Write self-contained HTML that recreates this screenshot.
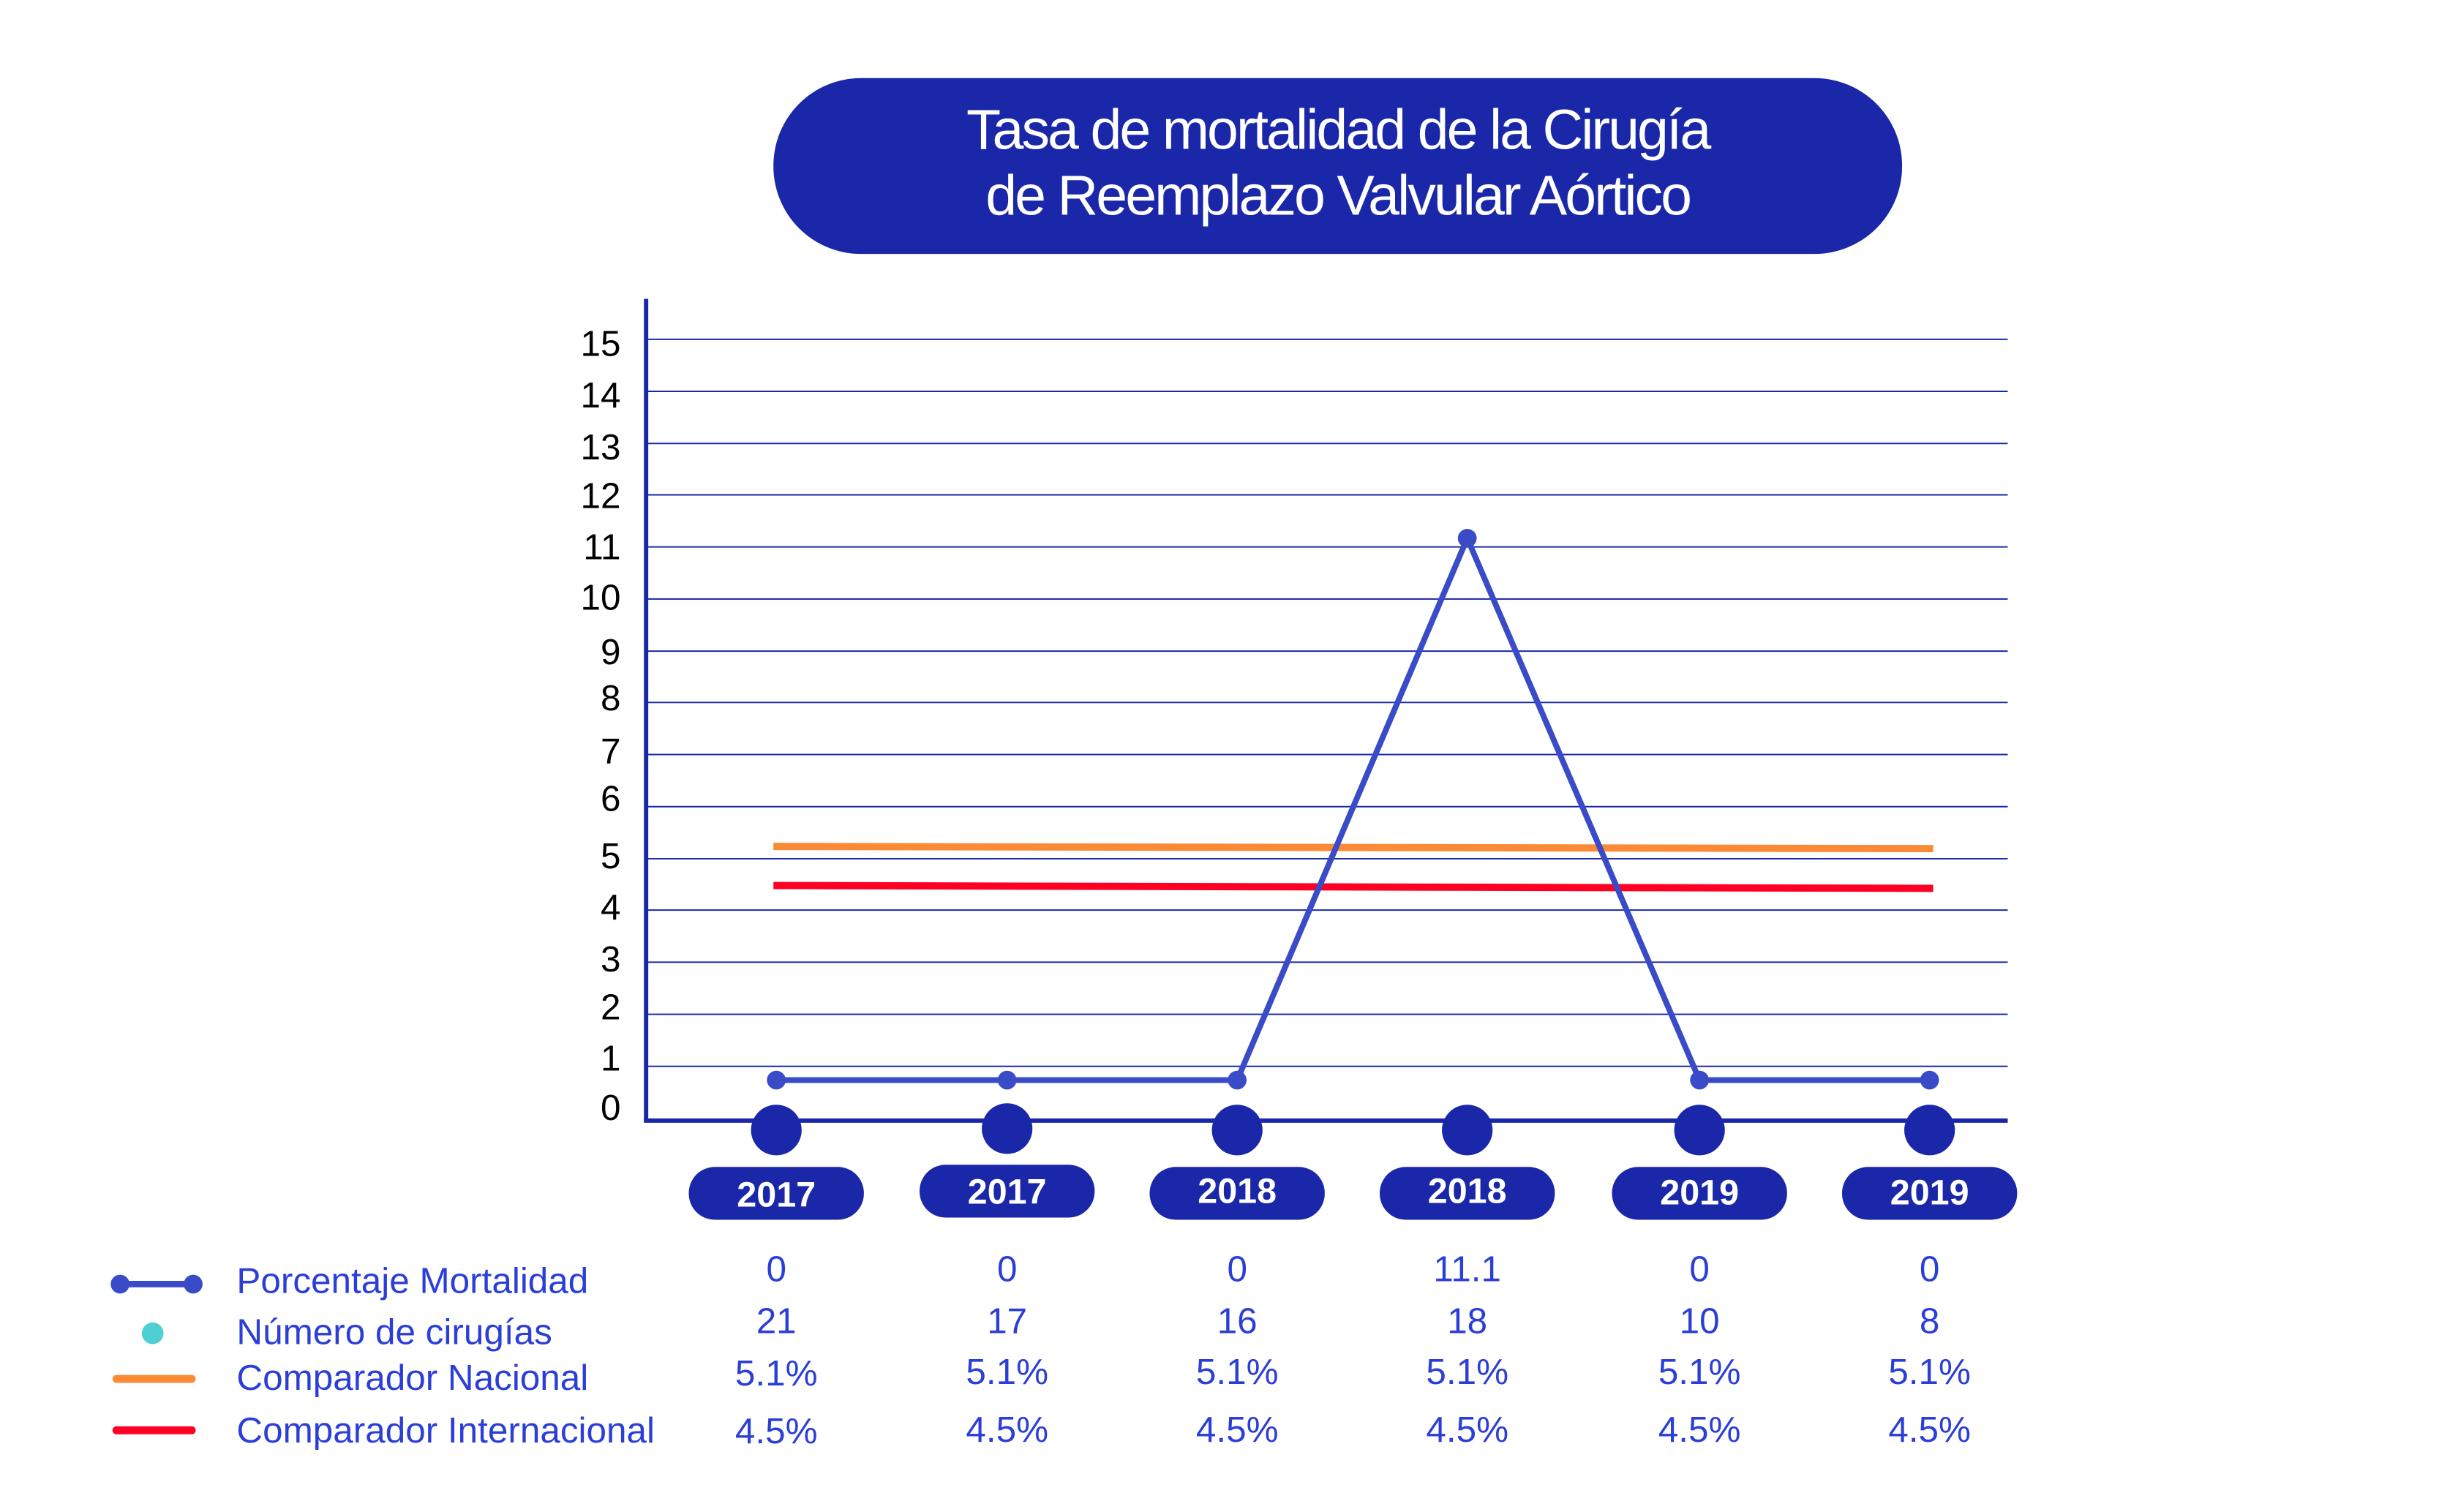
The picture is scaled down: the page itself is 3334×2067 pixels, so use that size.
<!DOCTYPE html>
<html><head><meta charset="utf-8"><style>
body{margin:0;background:#fff;}
svg text{font-family:"Liberation Sans",sans-serif;}
</style></head><body>
<svg width="3334" height="2062" viewBox="0 0 3334 2062" xmlns="http://www.w3.org/2000/svg">
<rect width="3334" height="2062" fill="#fff"/>
<g transform="scale(0.989)">
<rect x="1069" y="108" width="1560" height="243" rx="121" fill="#1a27a8"/>
<text x="1849" y="206" font-size="78" fill="#fff" text-anchor="middle" letter-spacing="-3">Tasa de mortalidad de la Cirugía</text>
<text x="1849" y="297" font-size="78" fill="#fff" text-anchor="middle" letter-spacing="-3">de Reemplazo Valvular Aórtico</text>
<g stroke="#1a27a8" stroke-width="2">
<line x1="893" y1="469" x2="2775" y2="469"/><line x1="893" y1="541" x2="2775" y2="541"/>
<line x1="893" y1="613" x2="2775" y2="613"/><line x1="893" y1="684" x2="2775" y2="684"/>
<line x1="893" y1="756" x2="2775" y2="756"/><line x1="893" y1="828" x2="2775" y2="828"/>
<line x1="893" y1="900" x2="2775" y2="900"/><line x1="893" y1="971" x2="2775" y2="971"/>
<line x1="893" y1="1043" x2="2775" y2="1043"/><line x1="893" y1="1115" x2="2775" y2="1115"/>
<line x1="893" y1="1187" x2="2775" y2="1187"/><line x1="893" y1="1258" x2="2775" y2="1258"/>
<line x1="893" y1="1330" x2="2775" y2="1330"/><line x1="893" y1="1402" x2="2775" y2="1402"/>
<line x1="893" y1="1474" x2="2775" y2="1474"/>
</g>
<line x1="893" y1="413" x2="893" y2="1551" stroke="#1a27a8" stroke-width="6"/>
<line x1="890" y1="1549" x2="2775" y2="1549" stroke="#1a27a8" stroke-width="6"/>
<g font-size="50" fill="#000" text-anchor="end">
<text x="858" y="492">15</text><text x="858" y="563">14</text><text x="858" y="635">13</text>
<text x="858" y="702">12</text><text x="858" y="773">11</text><text x="858" y="843">10</text>
<text x="858" y="918">9</text><text x="858" y="982">8</text><text x="858" y="1055">7</text>
<text x="858" y="1121">6</text><text x="858" y="1200">5</text><text x="858" y="1271">4</text>
<text x="858" y="1343">3</text><text x="858" y="1409">2</text><text x="858" y="1480">1</text>
<text x="858" y="1548">0</text>
</g>
<line x1="1069" y1="1170" x2="2672" y2="1173" stroke="#fb8a36" stroke-width="10"/>
<line x1="1069" y1="1224" x2="2672" y2="1228" stroke="#ff0024" stroke-width="10"/>
<polyline points="1073,1493 1392,1493 1710,1493 2028,744 2349,1493 2667,1493" fill="none" stroke="#3a4bc8" stroke-width="8" stroke-linejoin="round"/>
<g fill="#3a4bc8">
<circle cx="1073" cy="1493" r="13"/><circle cx="1392" cy="1493" r="13"/><circle cx="1710" cy="1493" r="13"/>
<circle cx="2028" cy="744" r="13"/><circle cx="2349" cy="1493" r="13"/><circle cx="2667" cy="1493" r="13"/>
</g>
<g fill="#1a27a8">
<circle cx="1073" cy="1562" r="35"/><circle cx="1392" cy="1560" r="35"/><circle cx="1710" cy="1562" r="35"/>
<circle cx="2028" cy="1562" r="35"/><circle cx="2349" cy="1562" r="35"/><circle cx="2667" cy="1562" r="35"/>
<rect x="952" y="1613" width="242" height="73" rx="36"/><rect x="1271" y="1610" width="242" height="73" rx="36"/>
<rect x="1589" y="1613" width="242" height="73" rx="36"/><rect x="1907" y="1613" width="242" height="73" rx="36"/>
<rect x="2228" y="1613" width="242" height="73" rx="36"/><rect x="2546" y="1613" width="242" height="73" rx="36"/>
</g>
<g font-size="49" font-weight="bold" fill="#fff" text-anchor="middle">
<text x="1073" y="1668">2017</text><text x="1392" y="1664">2017</text><text x="1710" y="1663">2018</text>
<text x="2028" y="1663">2018</text><text x="2349" y="1665">2019</text><text x="2667" y="1665">2019</text>
</g>
<g font-size="50" fill="#2b3ed8" text-anchor="middle">
<text x="1073" y="1771">0</text><text x="1392" y="1771">0</text><text x="1710" y="1771">0</text><text x="2028" y="1771">11.1</text><text x="2349" y="1771">0</text><text x="2667" y="1771">0</text>
<text x="1073" y="1843">21</text><text x="1392" y="1843">17</text><text x="1710" y="1843">16</text><text x="2028" y="1843">18</text><text x="2349" y="1843">10</text><text x="2667" y="1843">8</text>
<text x="1073" y="1915">5.1%</text><text x="1392" y="1913">5.1%</text><text x="1710" y="1913">5.1%</text><text x="2028" y="1913">5.1%</text><text x="2349" y="1913">5.1%</text><text x="2667" y="1913">5.1%</text>
<text x="1073" y="1995">4.5%</text><text x="1392" y="1993">4.5%</text><text x="1710" y="1993">4.5%</text><text x="2028" y="1993">4.5%</text><text x="2349" y="1993">4.5%</text><text x="2667" y="1993">4.5%</text>
</g>
<line x1="166" y1="1775" x2="267" y2="1775" stroke="#3a4bc8" stroke-width="9"/>
<circle cx="166" cy="1775" r="13" fill="#3a4bc8"/><circle cx="267" cy="1775" r="13" fill="#3a4bc8"/>
<circle cx="211" cy="1843" r="15" fill="#4ecfd4"/>
<line x1="161" y1="1906" x2="265" y2="1906" stroke="#fb8a36" stroke-width="11" stroke-linecap="round"/>
<line x1="161" y1="1977" x2="265" y2="1977" stroke="#ff0024" stroke-width="11" stroke-linecap="round"/>
<g font-size="50" fill="#2b3ed8">
<text x="327" y="1787">Porcentaje Mortalidad</text>
<text x="327" y="1858">Número de cirugías</text>
<text x="327" y="1921">Comparador Nacional</text>
<text x="327" y="1994">Comparador Internacional</text>
</g>
</g>
</svg>
</body></html>
